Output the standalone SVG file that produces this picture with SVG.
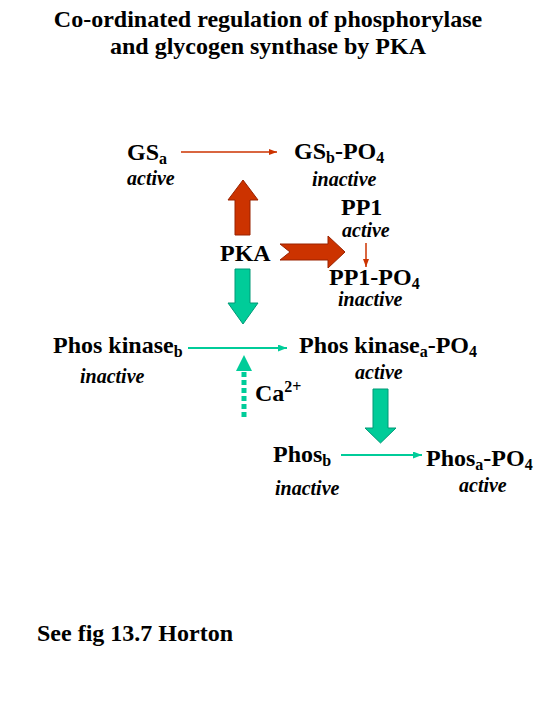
<svg xmlns="http://www.w3.org/2000/svg" width="540" height="720" viewBox="0 0 540 720">
<defs>
<style>
text{font-family:"Liberation Serif","Times New Roman",serif;fill:#000}
.title{font-size:24px;font-weight:bold;text-anchor:middle}
.lbl{font-size:24px;font-weight:bold}
.st{font-size:20px;font-weight:bold;font-style:italic}
.sub{font-size:16px}
.red{fill:#CC3300;stroke:#992200;stroke-width:1}
.grn{fill:#00CC99;stroke:#009977;stroke-width:1}
.rl{stroke:#CC3300;stroke-width:1.5;fill:none}
.gl{stroke:#00CC99;stroke-width:2;fill:none}
</style>
<marker id="ar" markerWidth="8" markerHeight="6" refX="8" refY="3" orient="auto" markerUnits="userSpaceOnUse"><path d="M0,0 L8,3 L0,6 Z" fill="#CC3300"/></marker>
<marker id="ag" markerWidth="9" markerHeight="7" refX="9" refY="3.5" orient="auto" markerUnits="userSpaceOnUse"><path d="M0,0 L9,3.5 L0,7 Z" fill="#00CC99"/></marker>
</defs>
<rect width="540" height="720" fill="#fff"/>
<g id="title">
<text class="title" x="268" y="27">Co-ordinated regulation of phosphorylase</text>
<text class="title" x="268" y="54">and glycogen synthase by PKA</text>
</g>
<g id="connectors">
<line class="rl" x1="181" y1="152" x2="277" y2="152" marker-end="url(#ar)"/>
<line class="rl" x1="366" y1="243" x2="366" y2="267" marker-end="url(#ar)"/>
<line class="gl" x1="188" y1="348" x2="287" y2="348" marker-end="url(#ag)"/>
<line class="gl" x1="341" y1="455" x2="422" y2="455" marker-end="url(#ag)"/>
<polygon class="red" points="235,235 250,235 250,200 258,200 243,180 228,200 235,200"/>
<polygon class="red" points="280,244 328,244 328,236 345,252 328,268 328,260 280,260 290,252"/>
<polygon class="grn" points="235,269 250,269 250,303 258,303 243,324 228,303 235,303"/>
<polygon class="grn" points="373,389 388,389 388,428 396,428 380.5,443 365,428 373,428"/>
<line x1="244" y1="417" x2="244" y2="371" stroke="#00CC99" stroke-width="5" stroke-dasharray="5,3"/>
<polygon points="236,371 252,371 244,355" fill="#00CC99"/>
</g>
<g id="gsa">
<text class="lbl" x="127" y="160">GS<tspan class="sub" dy="4">a</tspan></text>
<text class="st" x="127" y="185">active</text>
</g>
<g id="gsb">
<text class="lbl" x="294" y="159">GS<tspan class="sub" dy="4">b</tspan><tspan dy="-4">-PO</tspan><tspan class="sub" dy="4">4</tspan></text>
<text class="st" x="312" y="186">inactive</text>
</g>
<g id="pp1">
<text class="lbl" x="341" y="215">PP1</text>
<text class="st" x="342" y="237">active</text>
</g>
<g id="pka">
<text class="lbl" x="220" y="261">PKA</text>
</g>
<g id="pp1po4">
<text class="lbl" x="329" y="285">PP1-PO<tspan class="sub" dy="4">4</tspan></text>
<text class="st" x="338" y="306">inactive</text>
</g>
<g id="phoskinb">
<text class="lbl" x="53" y="353">Phos kinase<tspan class="sub" dy="4">b</tspan></text>
<text class="st" x="80" y="383">inactive</text>
</g>
<g id="phoskina">
<text class="lbl" x="299" y="353">Phos kinase<tspan class="sub" dy="4">a</tspan><tspan dy="-4">-PO</tspan><tspan class="sub" dy="4">4</tspan></text>
<text class="st" x="355" y="379">active</text>
</g>
<g id="ca">
<text class="lbl" x="255" y="401">Ca<tspan class="sub" dy="-9">2+</tspan></text>
</g>
<g id="phosb">
<text class="lbl" x="273" y="462">Phos<tspan class="sub" dy="4">b</tspan></text>
<text class="st" x="275" y="495">inactive</text>
</g>
<g id="phosa">
<text class="lbl" x="426" y="466">Phos<tspan class="sub" dy="4">a</tspan><tspan dy="-4">-PO</tspan><tspan class="sub" dy="4">4</tspan></text>
<text class="st" x="459" y="492">active</text>
</g>
<g id="note">
<text class="lbl" x="37" y="641">See fig 13.7 Horton</text>
</g>
</svg>
